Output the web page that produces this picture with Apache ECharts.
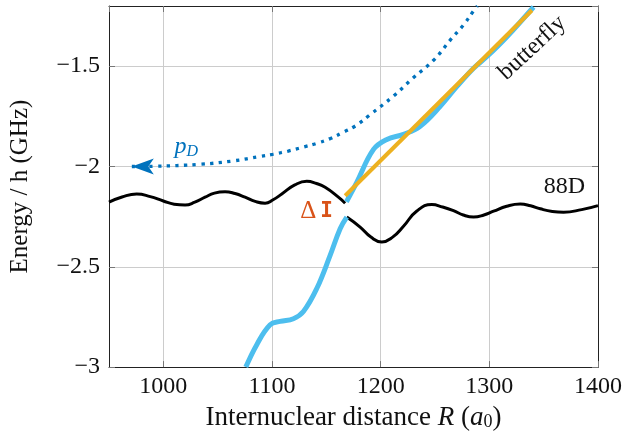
<!DOCTYPE html>
<html>
<head>
<meta charset="utf-8">
<script src="https://cdn.jsdelivr.net/npm/echarts@6/dist/echarts.min.js"></script>
<style>html,body{margin:0;padding:0;background:#fff}#c{width:625px;height:436px}</style>
</head>
<body>
<div id="c"></div>
<script>
// ---- data ----
const black88D_left = [
  [950,-2.178],[962,-2.152],[975.5,-2.137],[988,-2.150],[1000,-2.172],[1010,-2.188],[1020,-2.192],
  [1029,-2.178],[1038.4,-2.153],[1047,-2.133],[1056.8,-2.126],[1066,-2.135],[1075.2,-2.153],
  [1084.5,-2.174],[1093.6,-2.183],[1101,-2.166],[1109,-2.137],
  [1121,-2.092],[1132,-2.074],[1141,-2.085],[1148.9,-2.104],[1161.1,-2.153],[1167.3,-2.183]
];
const black88D_right = [
  [1168.8,-2.252],[1181.1,-2.302],[1191,-2.352],[1201,-2.376],[1211,-2.352],[1221,-2.298],
  [1233.3,-2.222],[1247.1,-2.19],[1257,-2.202],[1267,-2.22],[1276,-2.242],[1285.5,-2.252],
  [1295,-2.242],[1303.9,-2.223],[1316,-2.198],[1328.5,-2.187],
  [1338,-2.196],[1346.9,-2.211],[1358,-2.224],[1368.3,-2.228],[1385,-2.215],[1400,-2.195]
];
const butterfly_lower = [
  [1075.9,-3.0],[1086,-2.888],[1098.3,-2.789],[1107.5,-2.772],[1119.7,-2.759],[1128.9,-2.723],
  [1141.3,-2.607],[1153.5,-2.443],[1162.7,-2.31],[1168.8,-2.252]
];
const butterfly_upper = [
  [1168.5,-2.176],[1178,-2.079],[1193.4,-1.915],[1205.7,-1.865],[1221,-1.84],[1236.4,-1.799],
  [1254.8,-1.70],[1270.2,-1.601],[1285.5,-1.51],[1297.8,-1.452],[1316.2,-1.353],[1340.7,-1.205]
];
const butterflyFit = [[1167.3,-2.146],[1339.2,-1.221]];
const pD = [
  [971,-2.0],[990,-1.999],[1034,-1.989],[1064.5,-1.972],[1089,-1.95],[1101,-1.939],[1115,-1.923],
  [1129,-1.903],[1141,-1.885],[1153.5,-1.861],[1166,-1.828],[1177,-1.797],[1190,-1.743],
  [1212,-1.648],[1230,-1.558],[1249,-1.469],[1264,-1.37],[1276,-1.296],[1286,-1.221],[1289,-1.2]
];
const xRange = [950, 1400];
const yRange = [-3, -1.2];
const yInterval = 0.5;
const labels = [
  {key:'pD', at:[1021,-1.903]},
  {key:'butterfly', at:[1339.5,-1.409]},
  {key:'88D', at:[1369,-2.103]},
  {key:'dI', at:[1141,-2.224]}
];

const FONT = '"Liberation Serif", "DejaVu Serif", serif';
const minus = v => String(v).replace('-', '\u2212');
const chart = echarts.init(document.getElementById('c'));
const gridColor = '#cccccc';
const axisCol = '#222';

const pDData = pD.map((p,i)=> i===0 ? {value:p, symbol:'arrow', symbolSize:[12,22], symbolRotate:90} : p);

chart.setOption({
  animation:false,
  grid:{left:109, right:27, top:6, bottom:67, containLabel:false},
  xAxis:[{
    type:'value', min:xRange[0], max:xRange[1], splitNumber:5,
    axisLine:{show:true, onZero:false, lineStyle:{color:axisCol, width:1}},
    axisTick:{show:true, inside:true, length:6, lineStyle:{color:'#777'}},
    axisLabel:{showMinLabel:false, margin:8, color:'#111', fontFamily:FONT, fontSize:24, formatter:v=>String(v)},
    splitLine:{show:true, lineStyle:{color:gridColor, width:1}},
    name:'Internuclear distance {i|R} ({i|a}{s|0})', nameLocation:'middle', nameGap:36,
    nameTextStyle:{color:'#111', fontFamily:FONT, fontSize:27,
      rich:{i:{fontStyle:'italic', fontFamily:FONT, fontSize:27, color:'#111'},
            s:{fontFamily:FONT, fontSize:18, color:'#111', padding:[9,0,0,0]}}}
  },{
    type:'value', position:'top', min:xRange[0], max:xRange[1], splitNumber:5,
    axisLine:{show:true, onZero:false, lineStyle:{color:axisCol, width:1}},
    axisTick:{show:true, inside:true, length:6, lineStyle:{color:'#777'}},
    axisLabel:{show:false}, splitLine:{show:false}
  }],
  yAxis:[{
    type:'value', min:yRange[0], max:yRange[1], interval:yInterval,
    axisLine:{show:true, onZero:false, lineStyle:{color:axisCol, width:1}},
    axisTick:{show:true, inside:true, length:6, lineStyle:{color:'#777'}},
    axisLabel:{showMaxLabel:false, margin:9, color:'#111', fontFamily:FONT, fontSize:24, formatter:minus},
    splitLine:{show:true, lineStyle:{color:gridColor, width:1}},
    name:'Energy / h (GHz)', nameLocation:'middle', nameGap:76,
    nameTextStyle:{color:'#111', fontFamily:FONT, fontSize:25}
  },{
    type:'value', position:'right', min:yRange[0], max:yRange[1], interval:yInterval,
    axisLine:{show:true, onZero:false, lineStyle:{color:axisCol, width:1}},
    axisTick:{show:true, inside:true, length:6, lineStyle:{color:'#777'}},
    axisLabel:{show:false}, splitLine:{show:false}
  }],
  series:[
    {name:'88D', type:'line', data:black88D_left, smooth:0.5, symbol:'none', lineStyle:{color:'#000', width:3}, z:2},
    {name:'88D', type:'line', data:black88D_right, smooth:0.5, symbol:'none', lineStyle:{color:'#000', width:3}, z:2},
    {name:'butterfly', type:'line', data:butterfly_lower, smooth:0.4, symbol:'none', lineStyle:{color:'#4DBEEE', width:5}, z:3},
    {name:'butterfly', type:'line', data:butterfly_upper, smooth:0.4, symbol:'none', lineStyle:{color:'#4DBEEE', width:5}, z:3},
    {name:'fit', type:'line', data:butterflyFit, symbol:'none', lineStyle:{color:'#EDB120', width:4}, z:4},
    {name:'pD', type:'line', data:pDData, smooth:0.4, symbol:'none', showSymbol:true,
      itemStyle:{color:'#0072BD'},
      lineStyle:{color:'#0072BD', width:3.3, type:[3.3,5.4], cap:'butt'}, z:5}
  ]
});

const texts = {
  pD:{style:{text:'{p|p}{d|D}', fill:'#0072BD', rich:{
      p:{fontFamily:FONT, fontStyle:'italic', fontSize:24, fill:'#0072BD', lineHeight:26},
      d:{fontFamily:FONT, fontStyle:'italic', fontSize:16, fill:'#0072BD', padding:[10,0,0,0], lineHeight:26}}}},
  butterfly:{style:{text:'butterfly', fontFamily:FONT, fontSize:24, fill:'#111'}, rotation:43*Math.PI/180},
  '88D':{style:{text:'88D', fontFamily:FONT, fontSize:24, fill:'#111'}},
  dI:{style:{text:'{a|\u0394}{b|I}', rich:{
      a:{fontFamily:FONT, fontSize:25, fill:'#D95319', padding:[0,4,0,0]},
      b:{fontFamily:'"DejaVu Sans Mono"', fontWeight:'bold', fontSize:21, fill:'#D95319'}}}}
};
const graphics = labels.map(l => {
  const px = chart.convertToPixel({xAxisIndex:0, yAxisIndex:0}, l.at);
  const t = texts[l.key];
  return {type:'text', x:px[0], y:px[1], rotation:t.rotation||0, z:10,
    style:Object.assign({align:'center', verticalAlign:'middle'}, t.style)};
});
chart.setOption({graphic:graphics});
</script>
</body>
</html>
